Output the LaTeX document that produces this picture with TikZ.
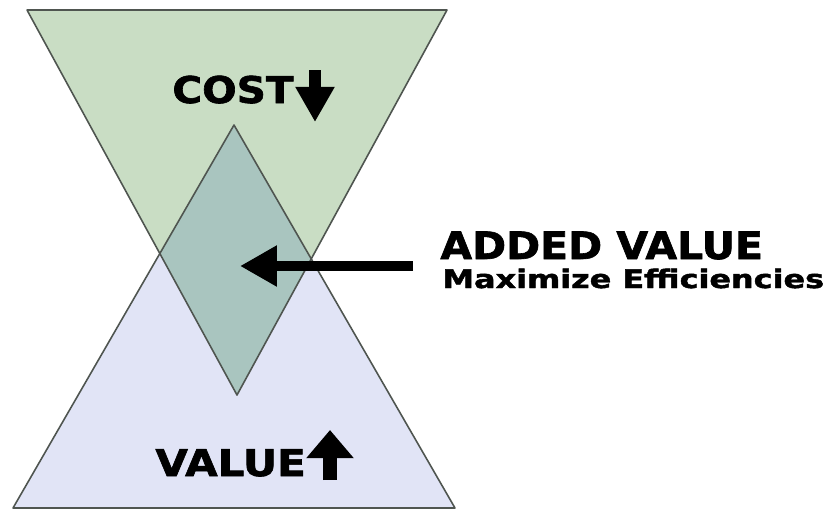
\documentclass[tikz,border=0pt]{standalone}
\usepackage{fontspec}
\newfontfamily\heavyfont[FakeBold=1.6]{DejaVu Sans Bold}
\usepackage{xcolor}
\usepackage{tikz}
\usetikzlibrary{arrows.meta}

\definecolor{costgreen}{HTML}{C9DDC4}
\definecolor{valueblue}{HTML}{E1E4F6}
\definecolor{addedteal}{HTML}{A9C5BF}
\definecolor{edgegray}{HTML}{4F5550}

\begin{document}
\begin{tikzpicture}[x=0.02cm,y=-0.02cm,
    word/.style={inner sep=0pt,anchor=base west},
    rim/.style={draw=edgegray,line width=0.9pt,line join=round},
    fat/.style={line width=5.7pt,-{Triangle[length=21pt,width=22pt]}}]
    \useasboundingbox (0,0) rectangle (828,512);

    \coordinate (gl) at (27,10);
    \coordinate (gr) at (447,10);
    \coordinate (gb) at (237,395);
    \coordinate (bt) at (234,125);
    \coordinate (bl) at (13,508);
    \coordinate (br) at (455,508);

    \fill[costgreen] (gl) -- (gr) -- (gb) -- cycle;
    \fill[valueblue] (bt) -- (bl) -- (br) -- cycle;
    \begin{scope}
      \clip (gl) -- (gr) -- (gb) -- cycle;
      \fill[addedteal] (bt) -- (bl) -- (br) -- cycle;
    \end{scope}
    \draw[rim] (gl) -- (gr) -- (gb) -- cycle;
    \draw[rim] (bt) -- (bl) -- (br) -- cycle;

    \node[word,font=\heavyfont\fontsize{21pt}{21pt}\selectfont,xscale=1.1] (cost) at (172,103) {COST};
    \node[word,font=\heavyfont\fontsize{21pt}{21pt}\selectfont,xscale=1.14] (value) at (155,476) {VALUE};
    \node[word,font=\heavyfont\fontsize{21.5pt}{21.5pt}\selectfont,xscale=1.085] (added) at (440,259) {ADDED VALUE};
    \node[word,font=\heavyfont\fontsize{14.5pt}{14.5pt}\selectfont,xscale=1.25] (maxeff) at (442,288) {Maximize Efficiencies};

    \coordinate (costtop) at (315,70);
    \coordinate (costtip) at (315,122);
    \coordinate (valuefoot) at (330,480);
    \coordinate (valuetip) at (330,430);
    \coordinate (tail) at (413,266);
    \coordinate (tip) at (240,266);

    \draw[line width=7pt,-{Triangle[length=20pt,width=21pt]}] (costtop) -- (costtip);
    \draw[line width=8.5pt,-{Triangle[length=16pt,width=26pt]}] (valuefoot) -- (valuetip);
    \draw[fat] (tail) -- (tip);
  \end{tikzpicture}
\end{document}
